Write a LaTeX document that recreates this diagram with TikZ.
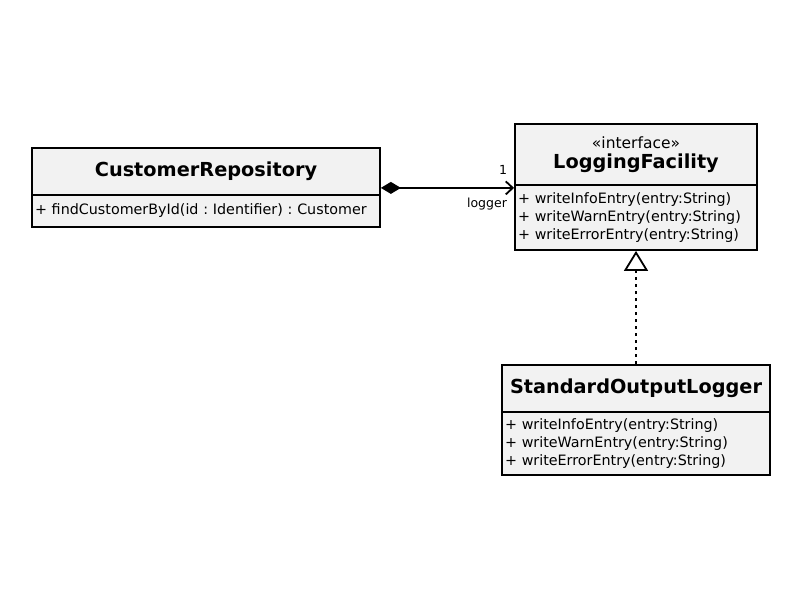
\documentclass[tikz,border=0pt]{standalone}
\usepackage{fontspec}
\setmainfont{DejaVu Sans}
\usetikzlibrary{arrows.meta,calc}
\definecolor{boxfill}{HTML}{F2F2F2}
\frenchspacing
\tikzset{
  hdr/.style={draw=black, line width=1.8pt, fill=boxfill, inner sep=0pt, align=center, font=\fontsize{19.3}{20}\selectfont\bfseries},
  bdy/.style={draw=black, line width=1.8pt, fill=boxfill, inner sep=0pt, align=left, font=\fontsize{14.3}{18.3}\selectfont},
  lbl/.style={inner sep=0pt, font=\fontsize{12.5}{14}\selectfont},
  assoc/.style={line width=1.8pt, {Diamond[length=20pt,width=12pt]}-{Straight Barb[length=7pt,width=13pt,line width=1.8pt]}},
  realize/.style={line width=1.8pt, dash pattern=on 3.5pt off 3.5pt, -{Triangle[open,length=20pt,width=24pt,line width=1.8pt]}}
}
\begin{document}
\begin{tikzpicture}[x=1pt,y=-1pt]
\useasboundingbox (0,0) rectangle (800,600);
% CustomerRepository
\node[hdr, minimum width=348pt, minimum height=47pt] (crh) at (206,171.5) {\frenchspacing CustomerRepository};
\node[bdy, minimum width=348pt, minimum height=32pt, text width=342pt] (crb) at (206,211) {\frenchspacing + findCustomerById(id : Identifier) : Customer};
% LoggingFacility
\node[hdr, minimum width=242pt, minimum height=61pt] (lfh) at (636,154.5) {{\fontsize{15.5}{16}\selectfont\mdseries «interface»}\\LoggingFacility};
\node[bdy, minimum width=242pt, minimum height=65pt, text width=236pt] (lfb) at (636,217.5) {+ writeInfoEntry(entry:String)\\+ writeWarnEntry(entry:String)\\+ writeErrorEntry(entry:String)};
% StandardOutputLogger
\node[hdr, minimum width=268pt, minimum height=47pt] (solh) at (636,388.5) {StandardOutputLogger};
\node[bdy, minimum width=268pt, minimum height=63pt, text width=262pt] (solb) at (636,443.5) {+ writeInfoEntry(entry:String)\\+ writeWarnEntry(entry:String)\\+ writeErrorEntry(entry:String)};
% connectors
\coordinate (cstart) at ($(crh.south east)+(0,-8)$);
\draw[assoc] (cstart) -- (cstart -| lfh.west);
\node[lbl] (mult) at (503,170) {1};
\node[lbl] (role) at (487,204) {logger};
\draw[realize] (solh.north) -- (lfb.south);
\end{tikzpicture}
\end{document}
